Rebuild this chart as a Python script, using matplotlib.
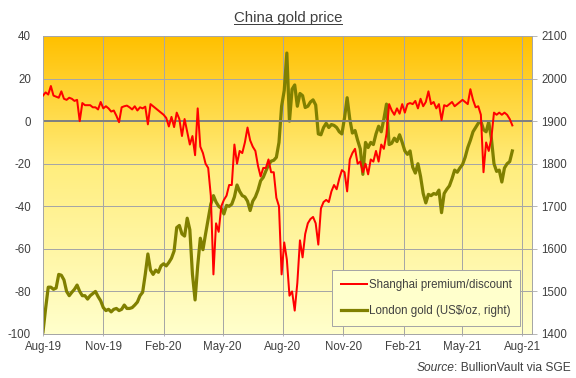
import numpy as np
import pandas as pd
import matplotlib
matplotlib.use('Agg')
import matplotlib.pyplot as plt
import matplotlib.dates as mdates
from matplotlib.colors import LinearSegmentedColormap
from matplotlib.lines import Line2D

plt.rcParams['font.family'] = ['Liberation Sans', 'DejaVu Sans']
plt.rcParams['axes.unicode_minus'] = False

# ---------------- data ----------------
start_date = '2019-08-01'
step = '4D'

premium = [12, 13.5, 12.5, 16.5, 12, 11.5, 11, 14, 10.5, 10,
           11, 10.5, 9.5, 10, 0, 8.5, 7.5, 7.5, 7.5, 6.5,
           6.5, 5.5, 9, 6, 7, 6, 4.5, 5, 2.5, -0.5,
           6.5, 7, 7.3, 6.5, 5.5, 7, 5, 6.5, 6, 6.8,
           -1.5, 8, 7, 6, 5, 4, 3, 1.5, -2.5, 2,
           -2.8, 4, 1, -7, 1, -5, -11, -7, -16, 6,
           -12, -15, -20, -22, -35, -72, -48, -52, -40, -37,
           -35, -30, -30, -11, -20, -14, -15, -10, -3, -9,
           -12, -14, -21, -26, -22, -22, -18, -24, -24, -36,
           -40, -72, -57, -65, -82, -80, -89, -76, -56, -64,
           -53, -48, -46, -45, -48, -58, -41, -38, -37, -38,
           -33, -30, -32, -27, -23, -24, -33, -18, -15, -13,
           -20, -19, -24, -20, -25, -18, -19, -14, -19, -11,
           -13, -6, 8, 5, 3, 6, 3.5, 8, 4, 8,
           8.5, 8, 9.5, 6, 10.5, 7, 9, 14, 8, 9,
           6, 8, 0.5, 7.5, 7, 8, 9, 7, 8, 9,
           10, 9, 8, 15, 10, 6.5, 7, 3, -24, -10,
           -14, -8, 4, 3, 4, 3, 4, 3, 1, -2]

gold = [1405, 1460, 1510, 1510, 1505, 1508, 1540, 1538, 1527, 1500,
        1490, 1498, 1505, 1515, 1500, 1490, 1490, 1482, 1490, 1495,
        1500, 1488, 1478, 1462, 1455, 1458, 1452, 1458, 1460, 1455,
        1458, 1468, 1460, 1460, 1462, 1468, 1475, 1490, 1498, 1540,
        1588, 1550, 1540, 1550, 1545, 1560, 1565, 1560, 1568, 1578,
        1595, 1650, 1655, 1635, 1630, 1672, 1645, 1540, 1480, 1560,
        1625, 1598, 1635, 1670, 1705, 1725, 1710, 1700, 1695, 1682,
        1702, 1700, 1705, 1722, 1750, 1735, 1725, 1722, 1712, 1690,
        1712, 1722, 1738, 1760, 1768, 1783, 1797, 1806, 1808, 1815,
        1850, 1935, 1972, 2060, 1900, 1975, 1985, 1935, 1965, 1960,
        1932, 1935, 1945, 1950, 1938, 1870, 1868, 1885, 1895, 1885,
        1892, 1890, 1885, 1875, 1870, 1908, 1955, 1905, 1872, 1878,
        1855, 1835, 1775, 1850, 1838, 1850, 1845, 1870, 1888, 1875,
        1905, 1940, 1845, 1848, 1860, 1852, 1868, 1850, 1830, 1822,
        1830, 1792, 1778, 1800, 1770, 1730, 1708, 1728, 1725, 1730,
        1728, 1738, 1685, 1730, 1740, 1748, 1765, 1785, 1780, 1790,
        1798, 1815, 1838, 1855, 1875, 1885, 1895, 1900, 1880, 1875,
        1898, 1860, 1800, 1782, 1785, 1757, 1790, 1800, 1805, 1830]

dates = pd.date_range(start_date, periods=len(premium), freq=step)

month_ticks = pd.date_range('2019-08-01', '2021-08-01', freq='3MS')
left_ticks = list(range(-100, 41, 20))
right_ticks = list(range(1400, 2101, 100))

title = 'China gold price'
label_red = 'Shanghai premium/discount'
label_gold = 'London gold (US$/oz, right)'

# ---------------- figure ----------------
W, H = 576, 378
fig = plt.figure(figsize=(W / 72, H / 72), dpi=72)
fig.patch.set_facecolor('white')
L, R, T, B = 43, 532, 36, 334
ax = fig.add_axes([L / W, 1 - B / H, (R - L) / W, (B - T) / H])   # gold axis (right)
ax2 = ax.twinx()                                                   # premium axis (left)

txt_col = '#404040'
grid_col = '#A6A6A6'

# gradient background (top: deep gold, bottom: pale yellow)
cmap = LinearSegmentedColormap.from_list(
    'bg', [(0.0, '#FFC000'), (0.45, '#FFEE80'), (1.0, '#FFFFCC')])
grad = np.linspace(0, 1, 256).reshape(-1, 1)
ax.imshow(grad, extent=[0, 1, 0, 1], origin='upper', transform=ax.transAxes,
          cmap=cmap, aspect='auto', zorder=0, interpolation='bilinear')

# gold line
l_gold, = ax.plot(dates, gold, color='#808000', lw=3.2, zorder=3,
                  solid_joinstyle='round')
ax.set_ylim(1400, 2100)
ax.set_yticks(right_ticks)
ax.yaxis.tick_right()
ax.yaxis.set_label_position('right')
ax.grid(True, color=grid_col, lw=1, zorder=1)
ax.set_axisbelow(True)

# premium line
ax2.axhline(0, color='#808080', lw=2, zorder=1)
l_red, = ax2.plot(dates, premium, color='#FF0000', lw=2, zorder=3,
                  solid_joinstyle='round')
ax2.set_ylim(-100, 40)
ax2.set_yticks(left_ticks)
ax2.yaxis.tick_left()

xmin = pd.Timestamp('2019-08-01')
xmax = pd.Timestamp('2021-08-16')
for a in (ax, ax2):
    a.set_xlim(xmin, xmax)
    a.set_xticks(month_ticks)
    a.xaxis.set_major_formatter(mdates.DateFormatter('%b-%y'))
    for s in a.spines.values():
        s.set_color(grid_col)
        s.set_linewidth(1)

ax.tick_params(axis='x', colors=grid_col, labelcolor=txt_col, labelsize=11.5,
               length=2, pad=5)
ax.tick_params(axis='y', colors=grid_col, labelcolor=txt_col, labelsize=11.5,
               length=5, pad=4, right=True, left=False)
ax2.tick_params(axis='y', labelcolor=txt_col, labelsize=11.5, length=0, pad=12,
                left=False, right=False, labelleft=True, labelright=False)
ax2.tick_params(axis='x', bottom=False, labelbottom=False)

# legend
leg = ax2.legend([l_red, l_gold], [label_red, label_gold], loc='upper left',
                 bbox_to_anchor=(332 / W, 1 - 270 / H), bbox_transform=fig.transFigure,
                 frameon=True, fancybox=False, edgecolor=grid_col, facecolor='#FFFFCC',
                 framealpha=1, fontsize=11.5, handlelength=2.3, handletextpad=0.15,
                 labelspacing=1.25, borderpad=0.75, borderaxespad=0)
for t in leg.get_texts():
    t.set_color(txt_col)
leg.get_frame().set_linewidth(1)
leg.set_zorder(10)

# title with underline
tt = fig.text(288 / W, 1 - 18 / H, title, ha='center', va='center',
              fontsize=15, color=txt_col)
fig.canvas.draw()
bb = tt.get_window_extent()
uy = (bb.y0 + 1.0) / H
fig.add_artist(Line2D([bb.x0 / W, bb.x1 / W], [uy, uy], color=txt_col, lw=1,
                      transform=fig.transFigure))

# source line
t_rest = fig.text(571 / W, 1 - 368 / H, ': BullionVault via SGE', ha='right',
                  va='center', fontsize=12, color=txt_col)
fig.canvas.draw()
rb = t_rest.get_window_extent()
fig.text(rb.x0 / W, 1 - 368 / H, 'Source', ha='right', va='center', fontsize=12,
         color=txt_col, style='italic')

fig.savefig('out.png', dpi=72)
